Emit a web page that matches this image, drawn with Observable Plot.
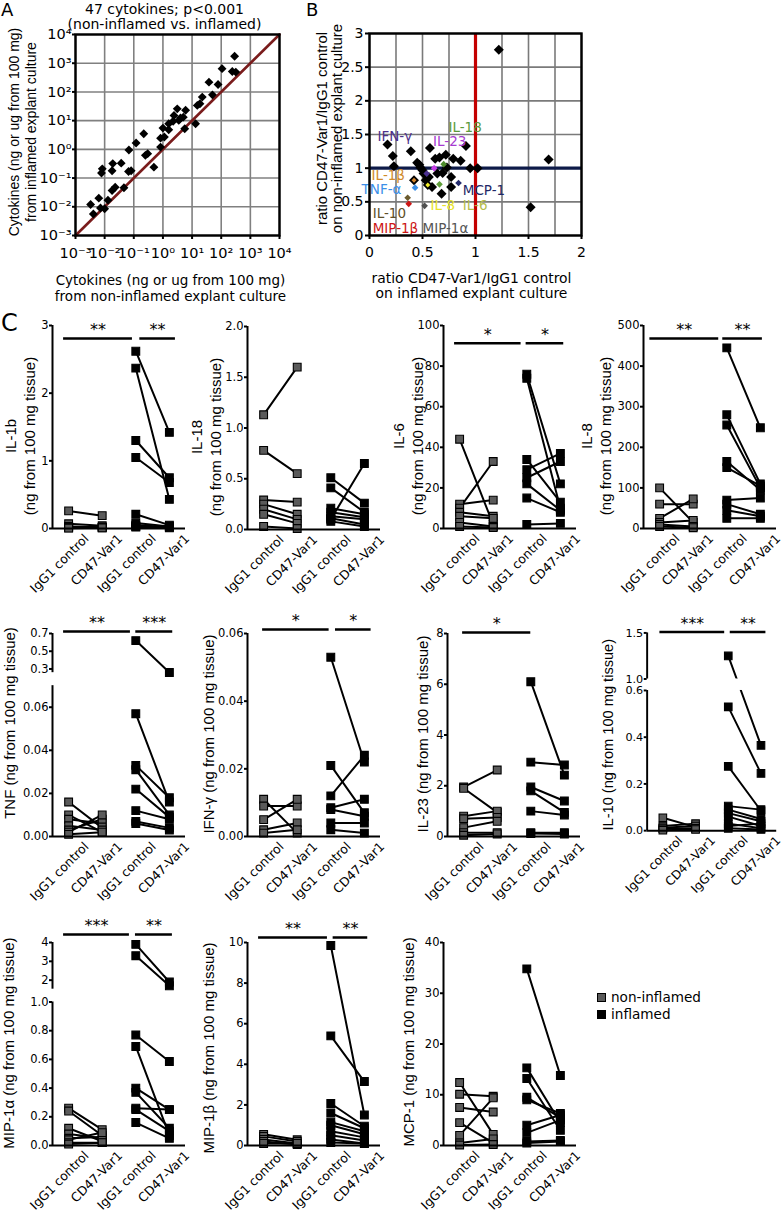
<!DOCTYPE html>
<html><head><meta charset="utf-8">
<script src="https://cdn.jsdelivr.net/npm/d3@7"></script>
<script src="https://cdn.jsdelivr.net/npm/@observablehq/plot@0.6"></script>
<style>
body{margin:0;background:#fff;}
#root{position:relative;width:784px;height:1221px;overflow:hidden;background:#fff;}
.box{position:absolute;}
.plabel{position:absolute;font-family:'DejaVu Sans',sans-serif;line-height:1;color:#000;}
.leg{position:absolute;font-family:'DejaVu Sans',sans-serif;font-size:13.6px;line-height:1;color:#000;display:flex;align-items:center;}
.leg span.sw{display:inline-block;width:7px;height:7px;border:1px solid #000;margin-right:5px;}
</style></head><body><div id="root"></div>
<script>
// ---------------- Panel A data ----------------
const aNonInflamed = [0.0033,0.0041,0.0063,0.0072,0.010,0.013,0.0078,0.0083,0.018,0.019,0.023,0.018,0.037,0.046,0.068,0.066,0.081,0.12,0.22,0.25,0.30,0.49,0.83,1.0,1.12,1.58,2.24,3.1,3.5,5.0,6.0,5.6,4.0,13.2,15.1,18.6,22.4,38,50,78,107,240,288,316,2.4,0.83,1.58];
const aInflamed    = [0.012,0.0056,0.020,0.0091,0.0085,0.017,0.15,0.21,0.18,0.32,0.048,0.037,0.33,0.046,0.95,0.17,0.18,1.66,3.5,0.62,0.71,0.24,2.45,5.5,2.7,4.8,9.5,25.7,10.2,13.2,22.9,5.2,12.3,7.8,33.9,38.9,66,219,79,182,646,513,1740,490,15.1,1.2,7.8];
const aDecades = [1e-3,1e-2,1e-1,1,10,100,1e3,1e4];
const aDecadeLabels = ["10\u207B\u00B3","10\u207B\u00B2","10\u207B\u00B9","10\u2070","10\u00B9","10\u00B2","10\u00B3","10\u2074"];
const aIdentity = [1e-3, 1e4];
const aTitle = "47 cytokines; p<0.001\n(non-inflamed vs. inflamed)";
const aXTitle = "Cytokines (ng or ug from 100 mg)\nfrom non-inflamed explant culture";
const aYTitle = "Cytokines (ng or ug from 100 mg)\nfrom inflamed explant culture";

// ---------------- Panel B data ----------------
const bBlackX = [1.22,1.69,1.52,0.17,0.22,0.23,0.39,0.42,0.45,0.48,0.57,0.51,0.56,0.59,0.62,0.66,0.68,0.72,0.73,0.77,0.79,0.86,0.91,0.77,0.95,1.02,0.50,0.64,0.55,0.47,0.53,0.69];
const bBlackY = [2.76,1.13,0.42,1.35,1.18,1.03,1.25,0.82,1.08,1.01,1.30,0.92,0.87,0.72,1.14,1.16,0.62,1.20,1.01,0.87,1.14,1.11,1.33,0.72,1.00,1.00,0.97,0.92,0.75,1.05,0.82,0.93];
const bNames  = ["IL-1\u03B2","TNF-\u03B1","IL-10","MIP-1\u03B2","MIP-1\u03B1","IL-8","IL-6","IL-18","IL-23","IFN-\u03B3","MCP-1"];
const bColX   = [0.42,0.43,0.36,0.37,0.52,0.55,0.66,0.70,0.61,0.54,0.84];
const bColY   = [0.82,0.71,0.56,0.47,0.44,0.75,0.76,1.06,1.00,0.92,0.78];
const bLabelX = [0.02,-0.075,0.03,0.03,0.50,0.575,0.88,0.745,0.60,0.075,0.88];
const bLabelY = [0.895,0.685,0.33,0.095,0.095,0.45,0.45,1.60,1.40,1.475,0.67];
const bColors = ["#d4862c","#3b8fe8","#6b5b2e","#cc1515","#4f4f4f","#f2ee2a","#5f9e3a","#4e8c2e","#c63de6","#4a2f8f","#222a6c"];
const bLabelColors = ["#d08a2a","#3b8fe8","#5e4e28","#cc1515","#555555","#e8e22a","#b5bd4a","#5a9a3a","#a63ad0","#4b2f8a","#1e2766"];
const bSmall = ["IL-1\u03B2","IL-8"];
const bTicksX = [0,0.5,1,1.5,2];
const bTicksY = [0,0.5,1,1.5,2,2.5,3];
const bTickLabelsX = ["0","0.5","1","1.5","2"];
const bTickLabelsY = ["0","0.5","1","1.5","2","2.5","3"];
const bGridX = [0,0.25,0.5,0.75,1,1.25,1.5,1.75,2];
const bXTitle = "ratio CD47-Var1/IgG1 control\non inflamed explant culture";
const bYTitle = "ratio CD47-Var1/IgG1 control\non non-inflamed explant culture";

// ---------------- Panel C data: pairs [IgG1 control, CD47-Var1] ----------------
const groupIdx = [0,1,2,3];
const groupLabels = ["IgG1 control","CD47-Var1","IgG1 control","CD47-Var1"];

const IL1b_non = [[0.26,0.19],[0.07,0.04],[0.03,0.02],[0.02,0.01],[0.01,0.02],[0.005,0.01]];
const IL1b_inf = [[2.62,1.42],[2.37,0.43],[1.30,0.75],[1.05,0.68],[0.21,0.05],[0.08,0.03],[0.05,0.02],[0.03,0.02],[0.02,0.01]];
const IL18_non = [[1.13,1.60],[0.78,0.55],[0.29,0.27],[0.25,0.15],[0.20,0.10],[0.15,0.06],[0.03,0.01]];
const IL18_inf = [[0.51,0.26],[0.41,0.17],[0.21,0.15],[0.17,0.12],[0.13,0.10],[0.11,0.05],[0.10,0.65],[0.08,0.03]];
const IL6_non  = [[44,2],[12,14],[10,33],[8,6],[6,5],[3,1],[1,0.5]];
const IL6_inf  = [[76,22],[74,10],[34,13],[29,37],[25,33],[22,9],[15,8],[2,2.5]];
const IL8_non  = [[100,15],[60,60],[25,73],[15,20],[10,5],[5,2]];
const IL8_inf  = [[445,248],[280,110],[255,100],[165,95],[150,105],[70,75],[60,35],[45,30],[25,25]];
const TNF_non  = [[0.016,0.004],[0.010,0.002],[0.008,0.006],[0.005,0.003],[0.003,0.008],[0.002,0.010],[0.001,0.002]];
const TNF_inf  = [[0.62,0.26],[0.057,0.016],[0.033,0.018],[0.031,0.010],[0.022,0.009],[0.012,0.008],[0.007,0.004],[0.006,0.003]];
const IFN_non  = [[0.011,0.001],[0.009,0.009],[0.005,0.011],[0.002,0.004],[0.001,0.002]];
const IFN_inf  = [[0.053,0.022],[0.021,0.007],[0.012,0.024],[0.0085,0.011],[0.008,0.006],[0.004,0.004],[0.002,0.001]];
const IL23_non = [[1.95,2.62],[1.90,0.95],[0.80,1.0],[0.70,0.75],[0.35,0.60],[0.15,0.15],[0.05,0.1]];
const IL23_inf = [[6.1,2.42],[2.93,2.82],[1.95,1.4],[1.8,0.95],[1.0,0.85],[0.15,0.15],[0.12,0.1]];
const IL10_non = [[0.055,0.015],[0.02,0.03],[0.012,0.02],[0.008,0.01],[0.002,0.005]];
const IL10_inf = [[1.25,0.365],[0.53,0.245],[0.275,0.085],[0.105,0.09],[0.09,0.05],[0.075,0.04],[0.06,0.02],[0.03,0.01],[0.02,0.03],[0.01,0.005]];
const MIP1a_non = [[0.26,0.11],[0.24,0.07],[0.12,0.03],[0.08,0.05],[0.05,0.06],[0.04,0.09],[0.02,0.02],[0.01,0.02]];
const MIP1a_inf = [[3.9,1.9],[3.3,1.7],[0.77,0.585],[0.69,0.07],[0.40,0.25],[0.37,0.12],[0.26,0.25],[0.25,0.10],[0.16,0.05]];
const MIP1b_non = [[0.55,0.28],[0.45,0.2],[0.3,0.1],[0.2,0.05],[0.1,0.1]];
const MIP1b_inf = [[9.85,1.5],[5.4,3.15],[2.07,0.95],[1.6,0.85],[1.15,0.7],[1.0,0.55],[0.7,0.4],[0.5,0.25],[0.3,0.1],[0.15,0.1]];
const MCP1_non = [[12.4,2.2],[10.1,9.7],[7.5,6.6],[4.5,0.5],[2.0,9.4],[0.5,1.3],[0.1,0.2]];
const MCP1_inf = [[34.8,13.8],[15.3,4.5],[13.2,3.0],[9.5,5.5],[9.0,6.3],[4.0,6.0],[2.5,5.0],[0.8,1.0],[0.5,0.8]];

const legendLabels = ["non-inflamed","inflamed"];
const legendColors = ["#5a5a5a","#000000"];

// ---------------- rendering ----------------
const FONT_H = "'DejaVu Sans', sans-serif";
const FONT_V = "'Liberation Sans', Arial, sans-serif";
const root = document.getElementById("root");
function place(node, left, top) {
  const d = document.createElement("div");
  d.className = "box"; d.style.left = left + "px"; d.style.top = top + "px";
  d.appendChild(node); root.appendChild(d);
}
function plabel(t, left, top, size) {
  const d = document.createElement("div");
  d.className = "plabel"; d.textContent = t;
  d.style.left = left + "px"; d.style.top = top + "px"; d.style.fontSize = size + "px";
  root.appendChild(d);
}
const baseStyle = {fontFamily: FONT_H, background: "transparent", color: "black", overflow: "visible"};
const center = {textAnchor: "middle", lineAnchor: "middle"};

// Panel A
const rowsA = aNonInflamed.map((x, i) => ({x, y: aInflamed[i]}));
const fmtA = d => aDecadeLabels[aDecades.indexOf(d)];
const plotA = Plot.plot({
  width: 290, height: 300, marginLeft: 75, marginRight: 11, marginTop: 34, marginBottom: 65,
  style: {...baseStyle, fontSize: "13.5px"},
  x: {type: "log", domain: [1e-3, 1e4]},
  y: {type: "log", domain: [1e-3, 1e4]},
  marks: [
    Plot.gridX({ticks: aDecades, stroke: "#808080", strokeOpacity: 1, strokeWidth: 1.6}),
    Plot.gridY({ticks: aDecades, stroke: "#808080", strokeOpacity: 1, strokeWidth: 1.6}),
    Plot.line(aIdentity, {x: d => d, y: d => d, stroke: "#7a1c1c", strokeWidth: 2.6}),
    Plot.dot(rowsA, {x: "x", y: "y", symbol: "diamond2", r: 4, fill: "black"}),
    Plot.frame({stroke: "black", strokeWidth: 2.4}),
    Plot.axisX({ticks: aDecades, tickFormat: fmtA, tickSize: 4, tickPadding: 8, label: null, strokeWidth: 2, fontSize: 14.5}),
    Plot.axisY({ticks: aDecades, tickFormat: fmtA, tickSize: 3, tickPadding: 1, label: null, strokeWidth: 2, fontSize: 14.5}),
    Plot.text([aTitle], {...center, text: d => d, frameAnchor: "top", dx: -13, dy: -18, fontSize: 14, lineHeight: 1.05}),
    Plot.text([aXTitle], {...center, text: d => d, frameAnchor: "bottom", dx: -7, dy: 52, fontSize: 13.5, lineHeight: 1.18}),
    Plot.text([aYTitle], {...center, text: d => d, frameAnchor: "left", rotate: -90, dx: -53.5, dy: -3, fontFamily: FONT_V, fontSize: 14, lineHeight: 1.2})
  ]
});
place(plotA, 0, 0);

// Panel B
const rowsBBlack = bBlackX.map((x, i) => ({x, y: bBlackY[i]}));
const rowsBCol = bNames.map((n, i) => ({n, x: bColX[i], y: bColY[i], c: bColors[i], lx: bLabelX[i], ly: bLabelY[i], lc: bLabelColors[i]}));
const plotB = Plot.plot({
  width: 300, height: 300, marginLeft: 79, marginRight: 9, marginTop: 33, marginBottom: 65,
  style: {...baseStyle, fontSize: "14px"},
  x: {domain: [0, 2]}, y: {domain: [0, 3]}, color: {type: "identity"},
  marks: [
    Plot.gridX({ticks: bGridX, stroke: "#7a7a7a", strokeOpacity: 1, strokeWidth: 1.6}),
    Plot.gridY({ticks: bTicksY, stroke: "#7a7a7a", strokeOpacity: 1, strokeWidth: 1.6}),
    Plot.ruleX([1], {stroke: "#c40000", strokeWidth: 3.2}),
    Plot.ruleY([1], {stroke: "#0d1a48", strokeWidth: 3.2}),
    Plot.dot(rowsBBlack, {x: "x", y: "y", symbol: "diamond2", r: 4.5, fill: "black"}),
    Plot.dot(rowsBCol, {x: "x", y: "y", symbol: "diamond2", r: d => bSmall.includes(d.n) ? 2.4 : 4.5, fill: "c"}),
    Plot.text(rowsBCol, {x: "lx", y: "ly", text: "n", fill: "lc", textAnchor: "start", fontSize: 13.5, fontWeight: d => d.n === "MIP-1\u03B2" ? "bold" : "normal"}),
    Plot.frame({stroke: "black", strokeWidth: 2.4}),
    Plot.axisX({ticks: bTicksX, tickFormat: d => bTickLabelsX[bTicksX.indexOf(d)], tickSize: 4, tickPadding: 8, label: null, strokeWidth: 2}),
    Plot.axisY({ticks: bTicksY, tickFormat: d => bTickLabelsY[bTicksY.indexOf(d)], tickSize: 4, tickPadding: 2, label: null, strokeWidth: 2}),
    Plot.text([bXTitle], {...center, text: d => d, frameAnchor: "bottom", dx: -4, dy: 50, fontSize: 13.9, lineHeight: 1.08}),
    Plot.text([bYTitle], {...center, text: d => d, frameAnchor: "left", rotate: -90, dx: -40, dy: -6, fontFamily: FONT_V, fontSize: 15, lineHeight: 1.02})
  ]
});
place(plotB, 290, 0);

// Panel C
const XMIN = -0.48, XMAX = 3.48;
function cytokinePanel(cfg) {
  const W = 193, H = 300, ML = 52, MR = 8, MT = 22, MB = 75;
  // piecewise (broken-axis) mapping of values onto a 0..1 display coordinate
  const f = d3.scaleLinear().domain(cfg.domain).range(cfg.frac);
  const rows = [];
  cfg.non.forEach((p, i) => p.forEach((v, j) => rows.push({pair: "n" + i, g: j, v: f(v), kind: "non"})));
  cfg.inf.forEach((p, i) => p.forEach((v, j) => rows.push({pair: "i" + i, g: j + 2, v: f(v), kind: "inf"})));
  const segs = cfg.brk ? [[0, f(cfg.brk[0])], [f(cfg.brk[1]), 1]] : [[0, 1]];
  const tk = cfg.ticks.map(f);
  const marks = [Plot.line(rows, {x: "g", y: "v", z: "pair", stroke: "black", strokeWidth: 2})];
  if (cfg.brk) marks.push(Plot.rect([cfg.brk], {x1: XMIN + 0.05, x2: XMAX, y1: d => f(d[0]), y2: d => f(d[1]), fill: "white"}));
  marks.push(
    Plot.dot(rows, {x: "g", y: "v", symbol: "square", r: 4.4, fill: d => d.kind === "non" ? legendColors[0] : legendColors[1], stroke: "black", strokeWidth: 1.1}),
    Plot.ruleY([0], {strokeWidth: 2}),
    Plot.ruleX(segs, {x: XMIN, y1: d => d[0], y2: d => d[1], strokeWidth: 2}),
    Plot.axisY({ticks: tk, tickFormat: d => cfg.tickLabels[tk.indexOf(d)], tickSize: 3, tickPadding: 1, label: null, strokeWidth: 2, fontSize: 11.5}),
    Plot.axisX({ticks: [], label: null}),
    Plot.text(groupIdx, {x: d => d, frameAnchor: "bottom", text: d => groupLabels[d], rotate: -45, textAnchor: "end", lineAnchor: "middle", dx: 18, dy: 8, fontSize: 12.5}),
    Plot.ruleY(cfg.sig, {x1: d => d[0], x2: d => d[1], y: 1, dy: cfg.barDy, strokeWidth: 2.6}),
    Plot.text(cfg.sig, {x: d => (d[0] + d[1]) / 2, y: 1, dy: cfg.barDy - 8.5, text: d => d[2], fontSize: 16}),
    Plot.text([cfg.label], {...center, text: d => d, frameAnchor: "left", rotate: -90, dx: cfg.labelDx, dy: cfg.labelDy, fontFamily: FONT_V, fontSize: 15, lineHeight: 1.27})
  );
  const p = Plot.plot({
    width: W, height: H, marginLeft: ML, marginRight: MR, marginTop: MT, marginBottom: MB,
    style: {...baseStyle, fontSize: "11.5px"},
    x: {domain: [XMIN, XMAX]}, y: {domain: [0, 1]}, color: {type: "identity"},
    marks
  });
  place(p, cfg.axisX - ML, cfg.top - MT);
}
const UNIT = " (ng from 100 mg tissue)";
const panels = [
  {label: "IL-1b\n(ng from 100 mg tissue)", non: IL1b_non, inf: IL1b_inf, domain: [0,3], frac: [0,1], ticks: [0,1,2,3], tickLabels: ["0","1","2","3"],
   sig: [[-0.15,1.9,"**"],[2.12,3.18,"**"]], barDy: 13, labelDx: -33.5, labelDy: 9, axisX: 52, top: 325},
  {label: "IL-18\n(ng from 100 mg tissue)", non: IL18_non, inf: IL18_inf, domain: [0,2], frac: [0,1], ticks: [0,0.5,1,1.5,2], tickLabels: ["0.0","0.5","1.0","1.5","2.0"],
   sig: [], barDy: 0, labelDx: -42, labelDy: 9, axisX: 247, top: 326},
  {label: "IL-6\n(ng from 100 mg tissue)", non: IL6_non, inf: IL6_inf, domain: [0,100], frac: [0,1], ticks: [0,20,40,60,80,100], tickLabels: ["0","20","40","60","80","100"],
   sig: [[-0.15,1.83,"*"],[1.98,3.1,"*"]], barDy: 17.7, labelDx: -36, labelDy: 9, axisX: 443, top: 325},
  {label: "IL-8\n(ng from 100 mg tissue)", non: IL8_non, inf: IL8_inf, domain: [0,500], frac: [0,1], ticks: [0,100,200,300,400,500], tickLabels: ["0","100","200","300","400","500"],
   sig: [[-0.29,1.76,"**"],[1.88,3.06,"**"]], barDy: 13, labelDx: -48.5, labelDy: 9, axisX: 643, top: 325},
  {label: "TNF" + UNIT, non: TNF_non, inf: TNF_inf, domain: [0,0.07,0.258,0.7], frac: [0,0.743,0.807,1], brk: [0.07,0.258],
   ticks: [0,0.02,0.04,0.06,0.3,0.5,0.7], tickLabels: ["0.00","0.02","0.04","0.06","0.3","0.5","0.7"],
   sig: [[-0.15,1.84,"**"],[2.0,3.1,"***"]], barDy: -2, labelDx: -44, labelDy: -12, axisX: 52, top: 633},
  {label: "IFN-\u03B3" + UNIT, non: IFN_non, inf: IFN_inf, domain: [0,0.06], frac: [0,1], ticks: [0,0.02,0.04,0.06], tickLabels: ["0.00","0.02","0.04","0.06"],
   sig: [[-0.03,1.95,"*"],[2.14,3.2,"*"]], barDy: -4, labelDx: -40, labelDy: -1, axisX: 247, top: 633},
  {label: "IL-23" + UNIT, non: IL23_non, inf: IL23_inf, domain: [0,8], frac: [0,1], ticks: [0,2,4,6,8], tickLabels: ["0","2","4","6","8"],
   sig: [[-0.03,2.0,"*"]], barDy: -1, labelDx: -26, labelDy: -1, axisX: 447, top: 633},
  {label: "IL-10" + UNIT, non: IL10_non, inf: IL10_inf, domain: [0,0.6,1.0,1.5], frac: [0,0.709,0.767,1], brk: [0.6,1.0],
   ticks: [0,0.2,0.4,0.6,1.0,1.5], tickLabels: ["0.0","0.2","0.4","0.6","1.0","1.5"],
   sig: [[-0.09,1.89,"***"],[2.06,3.15,"**"]], barDy: -1, labelDx: -41, labelDy: 3, axisX: 648, top: 633},
  {label: "MIP-1\u03B1" + UNIT, non: MIP1a_non, inf: MIP1a_inf, domain: [0,1.0,1.52,4], frac: [0,0.707,0.770,1], brk: [1.0,1.52],
   ticks: [0,0.2,0.4,0.6,0.8,1.0,2,3,4], tickLabels: ["0.0","0.2","0.4","0.6","0.8","1.0","2","3","4"],
   sig: [[-0.15,1.81,"***"],[1.99,3.09,"**"]], barDy: -8, labelDx: -44.5, labelDy: -1, axisX: 52, top: 942},
  {label: "MIP-1\u03B2" + UNIT, non: MIP1b_non, inf: MIP1b_inf, domain: [0,10], frac: [0,1], ticks: [0,2,4,6,8,10], tickLabels: ["0","2","4","6","8","10"],
   sig: [[-0.15,1.9,"**"],[2.07,3.1,"**"]], barDy: -5, labelDx: -40, labelDy: 4, axisX: 247, top: 942},
  {label: "MCP-1" + UNIT, non: MCP1_non, inf: MCP1_inf, domain: [0,40], frac: [0,1], ticks: [0,10,20,30,40], tickLabels: ["0","10","20","30","40"],
   sig: [], barDy: 0, labelDx: -35.5, labelDy: -2, axisX: 443, top: 942}
];
panels.forEach(cytokinePanel);

// legend
legendLabels.forEach((t, i) => {
  const d = document.createElement("div");
  d.className = "leg";
  d.style.left = "597px"; d.style.top = (991 + i * 17) + "px";
  const sw = document.createElement("span"); sw.className = "sw"; sw.style.background = legendColors[i];
  d.appendChild(sw); d.appendChild(document.createTextNode(t));
  root.appendChild(d);
});

// panel letters
plabel("A", 1, 1, 18);
plabel("B", 306, 1, 18);
plabel("C", 1, 311, 24);
</script>
</body></html>
